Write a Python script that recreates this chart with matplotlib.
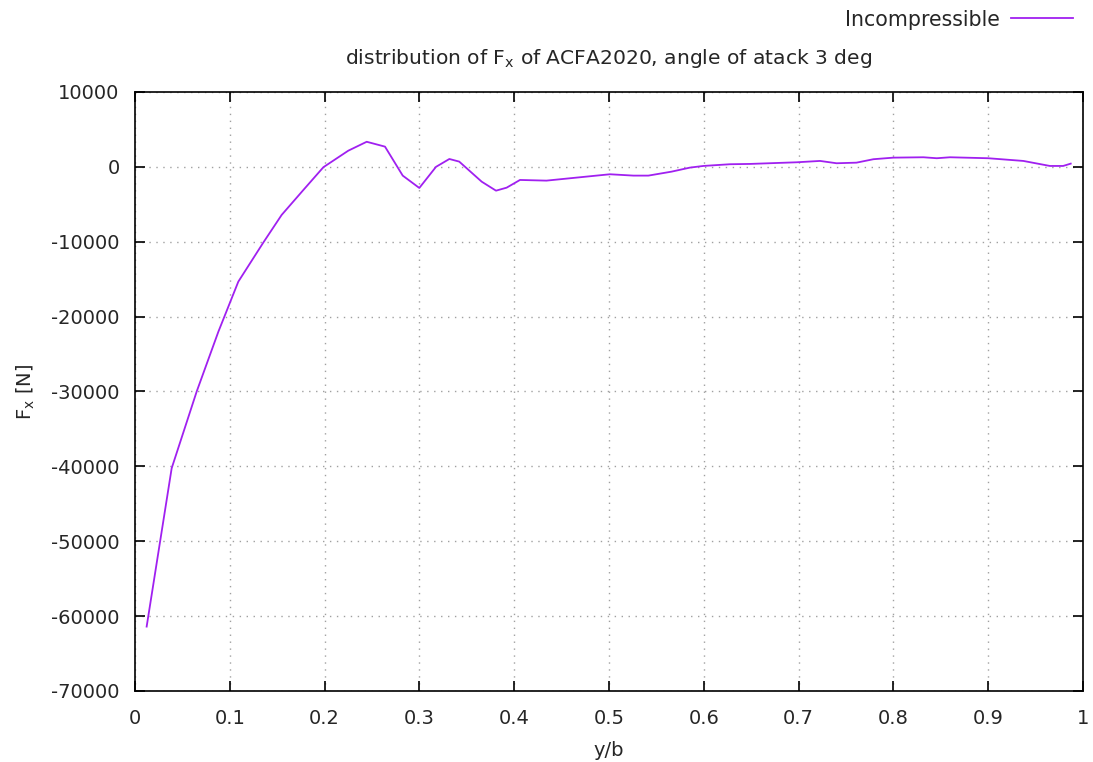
import numpy as np
from matplotlib import pyplot as plt


# spanwise stations (y/b) and sectional force Fx [N]
y_b = [0.0123, 0.0387, 0.0651, 0.0880, 0.1090, 0.1353, 0.1547, 0.1776, 0.1987,
       0.2250, 0.2444, 0.2637, 0.2824, 0.2999, 0.3175, 0.3316, 0.3420, 0.3657,
       0.3808, 0.3920, 0.4061, 0.4340, 0.4694, 0.5010, 0.5257, 0.5415, 0.5660,
       0.5854, 0.5995, 0.6276, 0.6487, 0.6980, 0.7226, 0.7400, 0.7610, 0.7789,
       0.8000, 0.8316, 0.8457, 0.8597, 0.9000, 0.9370, 0.9650, 0.9790, 0.9870]
fx = [-61400, -40250, -30000, -22000, -15330, -10120, -6420, -3090, -50,
      2160, 3350, 2700, -1170, -2820, 0, 1050, 700, -1980,
      -3180, -2780, -1750, -1840, -1390, -990, -1170, -1170, -640,
      -100, 120, 350, 390, 610, 790, 480, 560, 1020,
      1230, 1280, 1150, 1280, 1150, 790, 120, 120, 430]

xticks = np.arange(0, 1.01, 0.1)
yticks = np.arange(-70000, 10001, 10000)

plt.rcParams['font.family'] = ['DejaVu Sans']
txt = "#262626"
fs = 14

fig = plt.figure(figsize=(10.93, 7.62), dpi=100)
ax = fig.add_axes([0.1235, 0.0932, 0.8674, 0.7861])

line, = ax.plot(y_b, fx, color="#a020f0", lw=1.3, label="Incompressible")

ax.set_xlim(0, 1)
ax.set_ylim(-70000, 10000)
ax.set_xticks(xticks)
ax.set_xticklabels(["0"] + ["%.1f" % t for t in xticks[1:-1]] + ["1"])
ax.set_yticks(yticks)
ax.set_yticklabels(["%d" % t for t in yticks])
ax.tick_params(direction="in", length=7, width=1.2, top=True, right=True,
               labelsize=fs, colors="black", labelcolor=txt)
ax.tick_params(axis="y", pad=11)
ax.tick_params(axis="x", pad=13)
for s in ax.spines.values():
    s.set_linewidth(1.2)
ax.grid(True, color="#a0a0a0", linestyle=(0, (1, 4)), linewidth=1.0)

ax.set_xlabel("y/b", fontsize=fs, labelpad=9, color=txt)
ax.set_ylabel("F$_\\mathregular{x}$ [N]", fontsize=fs, labelpad=10, color=txt)
ax.set_title("distribution of F$_\\mathregular{x}$ of ACFA2020, angle of atack 3 deg",
             fontsize=14.6, pad=20, color=txt)

# legend: text right aligned, sample line to its right
fig.text(1000 / 1093, 1 - 20 / 762, "Incompressible", ha="right", va="center",
         fontsize=14.8, color=txt)
fig.lines.append(plt.Line2D([1011 / 1093, 1073 / 1093], [1 - 18 / 762, 1 - 18 / 762],
                            color="#a020f0", lw=1.3, transform=fig.transFigure))

fig.savefig("out.png", dpi=100)
